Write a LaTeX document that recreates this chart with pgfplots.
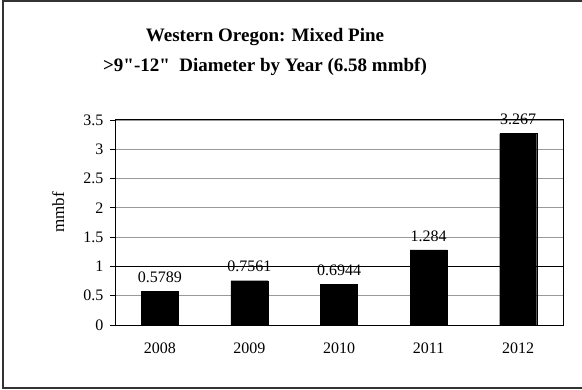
\documentclass[border=0pt]{standalone}
\usepackage{pgfplots}
\pgfplotsset{compat=1.18}
\usepackage{fontspec}
\setmainfont{Liberation Serif}
\newfontfamily\titlefont{Liberation Serif}
\begin{document}
\begin{tikzpicture}
\path[use as bounding box] (0,0) rectangle (582bp,390bp);
\draw[line width=1.6bp, black!80] (3bp,2bp) rectangle (590bp,389bp);
\node[font=\titlefont\fontsize{19bp}{22bp}\selectfont\bfseries] at (265bp,353bp) {Western Oregon: Mixed Pine};
\node[font=\titlefont\fontsize{19bp}{22bp}\selectfont\bfseries] at (265bp,323bp) {>9"-12"\ \ Diameter by Year (6.58 mmbf)};
\begin{axis}[
    at={(115bp,65bp)}, anchor=south west,
    width=448bp, height=205bp, scale only axis,
    ybar, bar width=37bp,
    xmin=-0.5, xmax=4.5, ymin=0, ymax=3.5,
    xtick={0,1,2,3,4},
    xticklabels={2008,2009,2010,2011,2012},
    major x tick style={draw=none},
    extra x ticks={-0.5,0.5,1.5,2.5,3.5,4.5},
    extra x tick labels={},
    extra x tick style={major tick length=5bp, tick align=outside, grid=none},
    ytick={0,0.5,...,3.5},
    yticklabels={0,0.5,1,1.5,2,2.5,3,3.5},
    tick align=outside, major tick length=5bp,
    xtick pos=bottom, ytick pos=left,
    ymajorgrids, major grid style={gray!80, line width=0.8bp},
    axis line style={line width=1bp},
    tick style={black, line width=0.8bp},
    tick label style={font=\fontsize{16bp}{18bp}\selectfont},
    xticklabel style={yshift=-9bp},
    yticklabel style={xshift=-3bp},
    ylabel={mmbf},
    ylabel style={font=\fontsize{17bp}{19bp}\selectfont, at={(axis description cs:-0.127,0.55)}, anchor=center},
    nodes near coords,
    point meta=explicit symbolic,
    nodes near coords style={font=\fontsize{16bp}{18bp}\selectfont, anchor=south, yshift=5bp},
]
\draw[black, line width=0.8bp] (axis cs:-0.5,1) -- (axis cs:4.5,1);
\addplot[fill=black, draw=black] table[meta=lab] {
x y lab
0 0.5789 0.5789
1 0.7561 0.7561
2 0.6944 0.6944
3 1.284 1.284
4 3.267 3.267
};
\end{axis}
\end{tikzpicture}
\end{document}
